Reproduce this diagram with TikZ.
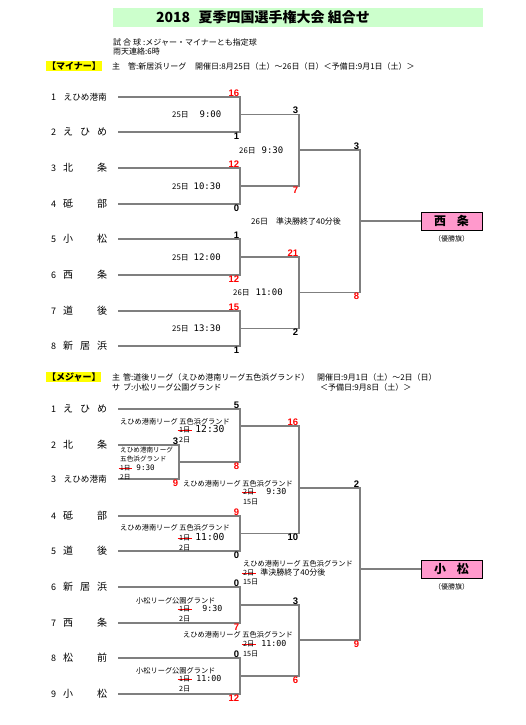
\documentclass[tikz,border=0pt]{standalone}
\usepackage{fontspec}
\setmainfont{Noto Sans CJK JP}
\newfontfamily\scorefont{Liberation Sans}
\newfontfamily\clock[Scale=1.15]{DejaVu Sans Mono}
\usetikzlibrary{positioning}

\definecolor{bandGreen}{HTML}{CCFFCC}
\definecolor{flagPink}{HTML}{FF99CC}
\definecolor{markYellow}{HTML}{FFFF00}
\definecolor{lineGray}{HTML}{7F7F7F}

% struck-out date, red line through it
\newsavebox\strkbox
\newcommand\strk[1]{\sbox\strkbox{#1}\makebox[0pt][l]{\kern-1.5pt\textcolor{red}{\rule[0.32em]{\dimexpr\wd\strkbox+3pt\relax}{0.6pt}}}\usebox\strkbox}
\newcommand\tm[1]{{\clock #1}}

\begin{document}
\begin{tikzpicture}[x=1pt, y=-1pt,
    brk/.style={draw=lineGray, line width=1.2pt},
    sc/.style={font=\scorefont\bfseries\fontsize{9.5}{10}\selectfont, inner sep=0.6pt},
    lost/.style={sc},
    won/.style={sc, text=red},
    up/.style={anchor=south east},
    dn/.style={anchor=north east},
    note/.style={font=\fontsize{7.2}{9.2}\selectfont, inner sep=0pt, anchor=west, align=left},
    mnote/.style={note, font=\fontsize{7.8}{9}\selectfont},
    hdr/.style={font=\fontsize{8}{9}\selectfont, inner sep=0pt, anchor=west},
    tag/.style={fill=markYellow, font=\bfseries\fontsize{9}{10}\selectfont, inner sep=0.8pt, anchor=west},
    num/.style={font=\fontsize{9}{10}\selectfont, inner sep=0pt, anchor=west},
    tname/.style={font=\fontsize{10}{11}\selectfont, inner sep=0pt, anchor=west},
    champ/.style={draw=black, line width=1pt, fill=flagPink, minimum width=61pt,
                  minimum height=18pt, font=\bfseries\fontsize{12}{12}\selectfont, inner sep=0pt},
    flag/.style={font=\fontsize{7}{8}\selectfont, inner sep=0pt},
]
\useasboundingbox (0,0) rectangle (525,725);

% --- Title and general notes ---
\node[fill=bandGreen, minimum width=370pt, minimum height=19pt, inner sep=0pt,
      anchor=north west] (band) at (113,8) {};
\node[font=\bfseries\fontsize{14}{15}\selectfont] (title) at (263,17.5)
    {2018\hspace{0.6em}夏季四国選手権大会 組合せ};
\node[hdr] (ball) at (113,42) {試\hspace{2pt}合\hspace{2pt}球\hspace{2pt}:メジャー・マイナーとも指定球};
\node[hdr] (rain) at (113,51) {雨天連絡:6時};

% --- Minor (top) ---
\node[tag] (mtag) at (46,66) {【マイナー】};
\node[hdr] (mhost) at (112,66) {主\hspace{8pt}管:新居浜リーグ};
\node[hdr] (mdate) at (195,66) {開催日:8月25日（土）～26日（日）＜予備日:9月1日（土）＞};

\foreach \n/\y/\nm in {1/97/{\fontsize{8.6}{9}\selectfont えひめ港南},
    2/132/{え\hfill ひ\hfill め}, 3/168/{北\hfill 条}, 4/204/{砥\hfill 部},
    5/239/{小\hfill 松}, 6/275/{西\hfill 条}, 7/311/{道\hfill 後},
    8/346/{新\hfill 居\hfill 浜}}{
  \node[num] (mn\n) at (51,\y) {\n};
  \node[tname] (mt\n) at (63,\y) {\makebox[44pt]{\nm}};
  \coordinate (ml\n) at (118,\y);
}

\coordinate (mq1) at (240,114.5);
\coordinate (mq2) at (240,186);
\coordinate (mq3) at (240,257);
\coordinate (mq4) at (240,328.5);
\coordinate (ms1) at (299,150);
\coordinate (ms2) at (299,292.5);
\coordinate (mf) at (360,221);

\draw[brk] (ml1) -| (mq1) |- (ml2);
\draw[brk] (ml3) -| (mq2) |- (ml4);
\draw[brk] (ml5) -| (mq3) |- (ml6);
\draw[brk] (ml7) -| (mq4) |- (ml8);
\draw[brk] (mq1) -| (ms1) |- (mq2);
\draw[brk] (mq3) -| (ms2) |- (mq4);
\draw[brk] (ms1) -| (mf) |- (ms2);

\node[champ] (mchamp) at (451.5,221) {西\hspace{0.9em}条};
\draw[brk] (mf) -- (mchamp);
\node[flag, below=5pt of mchamp] (mflag) {（優勝旗）};

% scores
\node[won, up] (mq1a) at (mq1 |- ml1) {16};
\node[lost, dn] (mq1b) at (mq1 |- ml2) {1};
\node[won, up] (mq2a) at (mq2 |- ml3) {12};
\node[lost, dn] (mq2b) at (mq2 |- ml4) {0};
\node[lost, up] (mq3a) at (mq3 |- ml5) {1};
\node[won, dn] (mq3b) at (mq3 |- ml6) {12};
\node[won, up] (mq4a) at (mq4 |- ml7) {15};
\node[lost, dn] (mq4b) at (mq4 |- ml8) {1};
\node[lost, up] (ms1a) at (ms1 |- mq1) {3};
\node[won, dn] (ms1b) at (ms1 |- mq2) {7};
\node[won, up] (ms2a) at (ms2 |- mq3) {21};
\node[lost, dn] (ms2b) at (ms2 |- mq4) {2};
\node[lost, up] (mfa) at (mf |- ms1) {3};
\node[won, dn] (mfb) at (mf |- ms2) {8};

% dates
\node[mnote] (mq1n) at (172,114.5) {25日\hspace{11pt}\tm{9:00}};
\node[mnote] (mq2n) at (172,186) {25日\hspace{5pt}\tm{10:30}};
\node[mnote] (mq3n) at (172,257) {25日\hspace{5pt}\tm{12:00}};
\node[mnote] (mq4n) at (172,328.5) {25日\hspace{5pt}\tm{13:30}};
\node[mnote] (ms1n) at (239,150) {26日\hspace{6pt}\tm{9:30}};
\node[mnote] (ms2n) at (233,292.5) {26日\hspace{6pt}\tm{11:00}};
\node[mnote, font=\fontsize{8}{9}\selectfont] (mfn) at (251,221) {26日\hspace{8pt}準決勝終了40分後};

% --- Major (bottom) ---
\node[tag] (jtag) at (46,377) {【メジャー】};
\node[hdr] (jhost) at (112,377) {主\hspace{3pt}管:道後リーグ（えひめ港南リーグ五色浜グランド）};
\node[hdr] (jdate) at (317,377) {開催日:9月1日（土）～2日（日）};
\node[hdr] (jsub) at (112,387) {サ\hspace{3pt}ブ:小松リーグ公園グランド};
\node[hdr] (jspare) at (320,387) {＜予備日:9月8日（土）＞};

\foreach \n/\y/\nm in {1/409/{え\hfill ひ\hfill め}, 2/445/{北\hfill 条},
    3/479/{\fontsize{8.6}{9}\selectfont えひめ港南}, 4/516/{砥\hfill 部},
    5/551/{道\hfill 後}, 6/587/{新\hfill 居\hfill 浜}, 7/623/{西\hfill 条},
    8/658/{松\hfill 前}, 9/694/{小\hfill 松}}{
  \node[num] (jn\n) at (51,\y) {\n};
  \node[tname] (jt\n) at (63,\y) {\makebox[44pt]{\nm}};
  \coordinate (jl\n) at (118,\y);
}

\coordinate (jp) at (179,462);
\coordinate (jq1) at (240,426);
\coordinate (jq2) at (240,533.5);
\coordinate (jq3) at (240,605);
\coordinate (jq4) at (240,676);
\coordinate (js1) at (299,488);
\coordinate (js2) at (299,640);
\coordinate (jf) at (360,569);

\draw[brk] (jl2) -| (jp) |- (jl3);
\draw[brk] (jl1) -| (jq1) |- (jp);
\draw[brk] (jl4) -| (jq2) |- (jl5);
\draw[brk] (jl6) -| (jq3) |- (jl7);
\draw[brk] (jl8) -| (jq4) |- (jl9);
\draw[brk] (jq1) -| (js1) |- (jq2);
\draw[brk] (jq3) -| (js2) |- (jq4);
\draw[brk] (js1) -| (jf) |- (js2);

\node[champ] (jchamp) at (451.5,569) {小\hspace{0.9em}松};
\draw[brk] (jf) -- (jchamp);
\node[flag, below=5pt of jchamp] (jflag) {（優勝旗）};

% scores
\node[lost, up] (jpa) at (jp |- jl2) {3};
\node[won, dn] (jpb) at (jp |- jl3) {9};
\node[lost, up] (jq1a) at (jq1 |- jl1) {5};
\node[won, dn] (jq1b) at (jq1 |- jp) {8};
\node[won, up] (jq2a) at (jq2 |- jl4) {9};
\node[lost, dn] (jq2b) at (jq2 |- jl5) {0};
\node[lost, up] (jq3a) at (jq3 |- jl6) {0};
\node[won, dn] (jq3b) at (jq3 |- jl7) {7};
\node[lost, up] (jq4a) at (jq4 |- jl8) {0};
\node[won, dn] (jq4b) at (jq4 |- jl9) {12};
\node[won, up] (js1a) at (js1 |- jq1) {16};
\node[lost, dn] (js1b) at (js1 |- jq2) {10};
\node[lost, up] (js2a) at (js2 |- jq3) {3};
\node[won, dn] (js2b) at (js2 |- jq4) {6};
\node[lost, up] (jfa) at (jf |- js1) {2};
\node[won, dn] (jfb) at (jf |- js2) {9};

% grounds and dates
\node[note, font=\fontsize{6.6}{9}\selectfont, anchor=north west] (jpn) at (120,446.5)
    {えひめ港南リーグ\\五色浜グランド\\\strk{1日}\hspace{6pt}\tm{9:30}\\2日};
\node[note] (jq1n) at (120,422) {えひめ港南リーグ 五色浜グランド};
\node[note, anchor=north west] (jq1d) at (179,425.5) {\strk{1日}\hspace{5pt}{\fontsize{8.4}{9}\selectfont\tm{12:30}}\\2日};
\node[note] (jq2n) at (120,528) {えひめ港南リーグ 五色浜グランド};
\node[note, anchor=north west] (jq2d) at (179,533.5) {\strk{1日}\hspace{5pt}{\fontsize{8.4}{9}\selectfont\tm{11:00}}\\2日};
\node[note] (jq3n) at (136,601) {小松リーグ公園グランド};
\node[note, anchor=north west] (jq3d) at (179,605.5) {\strk{1日}\hspace{12pt}\tm{9:30}\\2日};
\node[note] (jq4n) at (136,671) {小松リーグ公園グランド};
\node[note, anchor=north west] (jq4d) at (179,675.5) {\strk{1日}\hspace{6pt}\tm{11:00}\\2日};
\node[note] (js1n) at (183,484) {えひめ港南リーグ 五色浜グランド};
\node[note, anchor=north west] (js1d) at (243,488.5) {\strk{2日}\hspace{12pt}\tm{9:30}\\15日};
\node[note] (js2n) at (183,635) {えひめ港南リーグ 五色浜グランド};
\node[note, anchor=north west] (js2d) at (243,640.5) {\strk{2日}\hspace{7pt}\tm{11:00}\\15日};
\node[note] (jfn) at (243,564) {えひめ港南リーグ 五色浜グランド};
\node[note, anchor=north west] (jfd) at (243,568.5)
    {\strk{2日}\hspace{6pt}{\fontsize{8}{9}\selectfont 準決勝終了40分後}\\15日};

\end{tikzpicture}
\end{document}
